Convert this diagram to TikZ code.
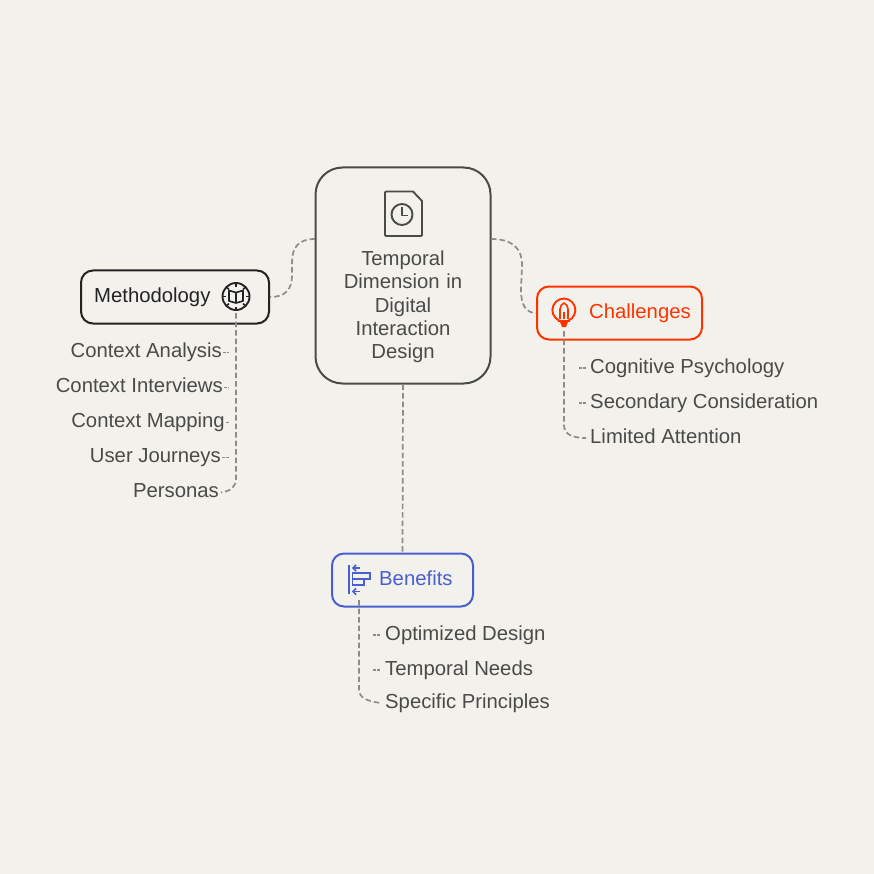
\documentclass[tikz,border=0pt]{standalone}
\usepackage{fontspec}
\setmainfont{Liberation Sans}
\usetikzlibrary{positioning}
\definecolor{paper}{HTML}{F3F1EC}
\definecolor{ink}{HTML}{4A4A48}
\definecolor{inkdark}{HTML}{232323}
\definecolor{hotred}{HTML}{FF3300}
\definecolor{softblue}{HTML}{4A5FCF}
\definecolor{dashgrey}{HTML}{8C8C8A}
\tikzset
{
    rootbox/.style = {rectangle, draw=ink, line width=2pt, rounded corners=27pt, minimum width=175pt, minimum height=216pt, inner sep=0pt},
    branch/.style  = {rectangle, line width=2pt, rounded corners=12pt, minimum height=53pt, inner sep=0pt},
    leaf/.style    = {text=ink, font=\fontsize{20.3}{24}\selectfont, inner sep=0pt, text height=14.5pt, text depth=4.5pt},
    title/.style   = {inner sep=0pt, font=\fontsize{20.3}{23}\selectfont},
    link/.style    = {dashgrey, line width=1.7pt, dash pattern=on 5.5pt off 3pt},
    tick/.style    = {dashgrey, line width=1.3pt, dash pattern=on 3pt off 1.2pt},
    icon/.style    = {line width=1.9pt, line join=round}
}
\begin{document}
\begin{tikzpicture}[x=1pt, y=-1pt]
    \path[use as bounding box, fill=paper] (0,0) rectangle (874,874);
    % boxes
    \node (root)   [rootbox] at (403,275.5) {};
    \node (method) [branch, draw=inkdark, minimum width=188pt] at (175,297) {};
    \node (chall)  [branch, draw=hotred, minimum width=165pt] at (619.5,313) {};
    \node (benef)  [branch, draw=softblue, minimum width=141pt] at (402.5,580) {};
    \coordinate (rootL) at (315,239);
    \coordinate (rootR) at (491,239);
    \coordinate (methodspine) at (236,313);
    \coordinate (challspine) at (564,331);
    \coordinate (benefspine) at (359,600);
    % titles
    \node (roottext) [title, text=ink, align=center, text width=150pt] at (403,307) {Temporal\\[0.3pt]Dimension in\\[0.3pt]Digital\\[0.3pt]Interaction\\[0.3pt]Design};
    \node (methodtext) [title, text=inkdark, anchor=base west] at (94,302) {Methodology};
    \node (challtext)  [title, text=hotred, anchor=base west] at (589,318) {Challenges};
    \node (beneftext)  [title, text=softblue, anchor=base west] at (379,585) {Benefits};
    % leaves
    \node (m1) [leaf, anchor=base east] at (222,357.5) {Context Analysis};
    \node (m2) [leaf, anchor=base east] at (223,392.5) {Context Interviews};
    \node (m3) [leaf, anchor=base east] at (225,427.5) {Context Mapping};
    \node (m4) [leaf, anchor=base east] at (221,462.5) {User Journeys};
    \node (m5) [leaf, anchor=base east] at (219,497.5) {Personas};
    \node (c1) [leaf, anchor=base west] at (590,373) {Cognitive Psychology};
    \node (c2) [leaf, anchor=base west] at (590,408) {Secondary Consideration};
    \node (c3) [leaf, anchor=base west] at (590,443) {Limited Attention};
    \node (b1) [leaf, anchor=base west] at (385,640) {Optimized Design};
    \node (b2) [leaf, anchor=base west] at (385,675) {Temporal Needs};
    \node (b3) [leaf, anchor=base west] at (385,708) {Specific Principles};
    % connectors
    \draw[link] (rootL) .. controls (298,239) and (292,248) .. (292,262) -- (292,275) .. controls (292,290) and (285,297) .. (method.east);
    \draw[link] (rootR) .. controls (512,239) and (522,248) .. (522,265) -- (521,290) .. controls (521,305) and (526,313) .. (chall.west);
    \draw[link] (root.south) -- (benef.north);
    \draw[link] (methodspine) -- (236,478) .. controls (236,487) and (231,491) .. ([xshift=2pt]m5.east);
    \draw[link] (challspine) -- (564,425) .. controls (564,433) and (570,438) .. ([xshift=-4pt]c3.west);
    \draw[link] (benefspine) -- (359,689) .. controls (359,697) and (365,701) .. ([xshift=-4pt]b3.west);
    \draw[tick] ([xshift=1pt]m1.east) -- ++(6,0);
    \draw[tick] ([xshift=1pt]m2.east) -- ++(5,0);
    \draw[tick] ([xshift=1pt]m3.east) -- ++(3,0);
    \draw[tick] ([xshift=1pt]m4.east) -- ++(7,0);
    \draw[tick] ([xshift=-11pt]c1.west) -- ([xshift=-4pt]c1.west);
    \draw[tick] ([xshift=-11pt]c2.west) -- ([xshift=-4pt]c2.west);
    \draw[tick] ([xshift=-12pt]b1.west) -- ([xshift=-5pt]b1.west);
    \draw[tick] ([xshift=-12pt]b2.west) -- ([xshift=-5pt]b2.west);
    % document icon
    \draw[icon, ink] (413,191.5) -- (386,191.5) -- (385,192.5) -- (385,235) -- (386,236) -- (421,236) -- (422,235) -- (422,201) -- cycle;
    \draw[icon, ink] (402,214.5) circle (10.5pt);
    \draw[icon, ink] (402,207.5) -- (402,215.5) -- (408,215.5);
    % compass with book
    \draw[icon, inkdark] (236,296.5) circle (13.5pt);
    \foreach \a in {0,45,...,315} {
        \draw[inkdark, line width=1.5pt] (236,296.5) ++(\a:13pt) -- ++(\a:-3pt);
    }
    \draw[inkdark, line width=1.6pt, line join=round] (236,292.5) -- (236,303) (236,292.5) -- (229,290.5) -- (229,301) -- (236,303) -- (243,301) -- (243,290.5) -- cycle;
    % bulb with rocket
    \draw[icon, hotred] (559,320.5) arc[start angle=-115, end angle=-425, radius=11.5pt];
    \draw[hotred, line width=1.6pt, line join=round] (560,319) -- (560,309) .. controls (560,306) and (562,304) .. (564,303) .. controls (566,304) and (568,306) .. (568,309) -- (568,319);
    \draw[hotred, line width=1.6pt] (564,312) -- (564,319) (558,321) -- (570,321);
    \fill[hotred] (560,322) -- (568,322) -- (566,327) -- (562,327) -- cycle;
    % bars with arrows
    \draw[icon, softblue] (349,565) -- (349,594);
    \draw[softblue, line width=1.7pt] (360,568) -- (353,568);
    \draw[softblue, line width=1.7pt] (356,565) -- (353,568) -- (356,571);
    \draw[softblue, line width=1.7pt] (360,591.5) -- (353,591.5);
    \draw[softblue, line width=1.7pt] (356,588.5) -- (353,591.5) -- (356,594.5);
    \draw[softblue, line width=1.7pt] (352.5,573) rectangle (370,579);
    \draw[softblue, line width=1.7pt] (352.5,579) rectangle (364,585);
\end{tikzpicture}
\end{document}
